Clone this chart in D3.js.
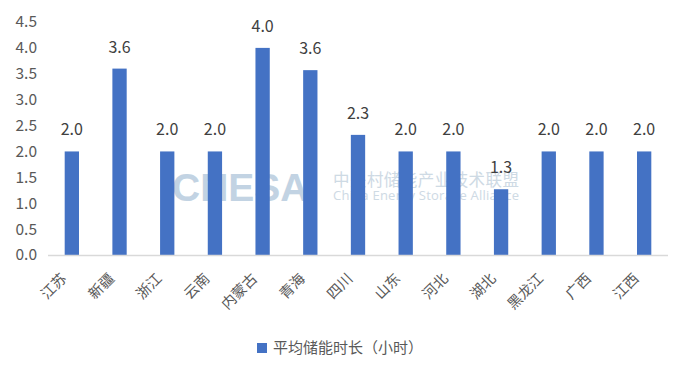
<!DOCTYPE html>
<html>
<head>
<meta charset="utf-8">
<script src="https://cdn.jsdelivr.net/npm/d3@7"></script>
<style>
  body { margin: 0; background: #fff; }
  text { font-family: "Microsoft YaHei", "Noto Sans CJK SC", sans-serif; }
</style>
</head>
<body>
<div id="chart"></div>
<script>
// données
const provinces = ["江苏", "新疆", "浙江", "云南", "内蒙古", "青海", "四川", "山东", "河北", "湖北", "黑龙江", "广西", "江西"];
const durations = [2.0, 3.6, 2.0, 2.0, 4.0, 3.57, 2.32, 2.0, 2.0, 1.27, 2.0, 2.0, 2.0];
const yTicks = [0, 0.5, 1, 1.5, 2, 2.5, 3, 3.5, 4, 4.5];
const seriesName = "平均储能时长（小时）";

const width = 691, height = 378;
const margin = { top: 22, right: 23, bottom: 123, left: 48 };
const barColor = "#4472c4";

const svg = d3.select("#chart")
    .append("svg")
    .attr("width", width)
    .attr("height", height);

const x = d3.scaleBand()
    .domain(provinces)
    .range([margin.left, width - margin.right])
    .paddingInner(0.7)
    .paddingOuter(0.35);

const y = d3.scaleLinear()
    .domain([0, 4.5])
    .range([height - margin.bottom, margin.top]);

// filigrane
const wm = svg.append("g").attr("opacity", 0.9);
wm.append("text")
    .attr("x", 172).attr("y", 201)
    .style("font-family", "Arial, 'Liberation Sans', sans-serif")
    .style("font-weight", "bold")
    .style("font-size", "39px")
    .style("fill", "#bccfe0")
    .text("CNESA");
wm.append("text")
    .attr("x", 333).attr("y", 186)
    .style("font-size", "16.5px")
    .style("fill", "#c9d6e2")
    .attr("textLength", 186)
    .text("中关村储能产业技术联盟");
wm.append("text")
    .attr("x", 333).attr("y", 200)
    .style("font-family", "'Open Sans', sans-serif")
    .style("font-size", "13px")
    .style("fill", "#c9d6e2")
    .attr("textLength", 186)
    .text("China Energy Storage Alliance");

// axe y
svg.append("g")
    .selectAll("text")
    .data(yTicks)
    .join("text")
    .attr("x", 37)
    .attr("y", d => y(d))
    .attr("dy", "0.35em")
    .attr("text-anchor", "end")
    .style("font-size", "15.5px")
    .style("fill", "#595959")
    .text(d => d3.format(".1f")(d));

// barres
svg.append("g")
    .selectAll("rect")
    .data(durations)
    .join("rect")
    .attr("x", (d, i) => x(provinces[i]))
    .attr("y", d => y(d))
    .attr("width", x.bandwidth())
    .attr("height", d => y(0) - y(d))
    .style("fill", barColor);

// étiquettes de valeurs
svg.append("g")
    .selectAll("text")
    .data(durations)
    .join("text")
    .attr("x", (d, i) => x(provinces[i]) + x.bandwidth() / 2)
    .attr("y", d => y(d) - 16)
    .attr("text-anchor", "middle")
    .style("font-size", "16px")
    .style("fill", "#404040")
    .text(d => d3.format(".1f")(d));

// axe x
svg.append("line")
    .attr("x1", margin.left).attr("x2", width - margin.right)
    .attr("y1", y(0) + 0.5).attr("y2", y(0) + 0.5)
    .style("stroke", "#d9d9d9")
    .style("stroke-width", 1.5);

svg.append("g")
    .selectAll("text")
    .data(provinces)
    .join("text")
    .attr("transform", d => `translate(${x(d) + x.bandwidth() / 2 - 8},${y(0) + 21}) rotate(-45)`)
    .attr("text-anchor", "end")
    .attr("dy", "0.35em")
    .style("font-size", "14.5px")
    .style("fill", "#595959")
    .text(d => d);

// légende
const legend = svg.append("g").attr("transform", "translate(257,343)");
legend.append("rect")
    .attr("width", 10).attr("height", 10)
    .style("fill", barColor);
legend.append("text")
    .attr("x", 16).attr("y", 5)
    .attr("dy", "0.35em")
    .style("font-size", "15px")
    .style("fill", "#595959")
    .text(seriesName);
</script>
</body>
</html>
